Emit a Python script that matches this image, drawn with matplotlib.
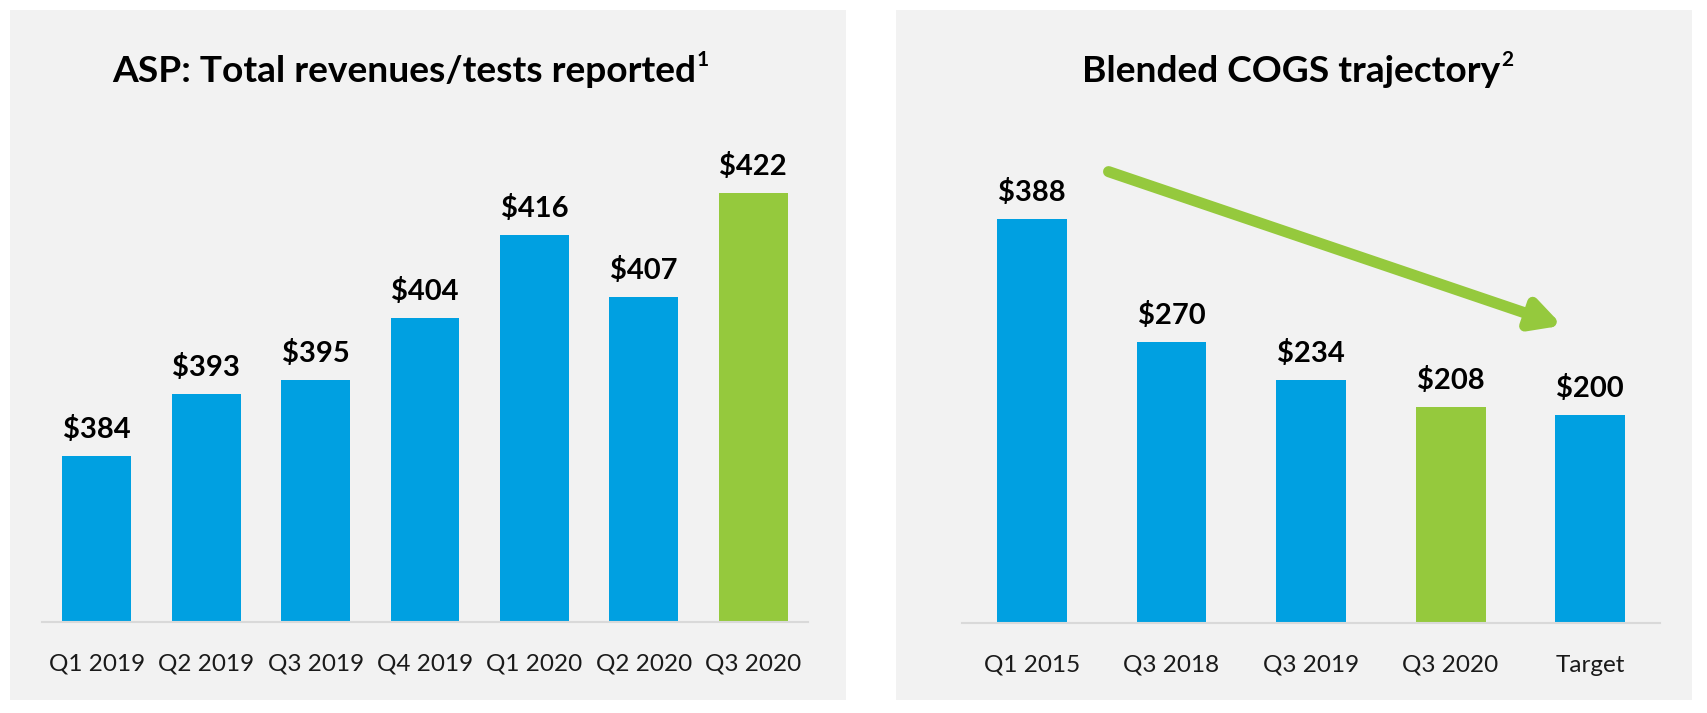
import matplotlib
matplotlib.use('Agg')
import matplotlib.pyplot as plt
from matplotlib.patches import Rectangle

# ASP per quarter
asp_quarters = ['Q1 2019', 'Q2 2019', 'Q3 2019', 'Q4 2019', 'Q1 2020', 'Q2 2020', 'Q3 2020']
asp_values = [384, 393, 395, 404, 416, 407, 422]

# blended COGS
cogs_periods = ['Q1 2015', 'Q3 2018', 'Q3 2019', 'Q3 2020', 'Target']
cogs_values = [388, 270, 234, 208, 200]

# trend arrow, in data units of the COGS chart
arrow_start = (0.55, 434)
arrow_end = (3.8, 286)

BLUE = '#00A0E1'
GREEN = '#95C93D'
PANEL = '#F2F2F2'
FONT = 'Lato'

W, H = 1707, 713
fig = plt.figure(figsize=(W / 100, H / 100), dpi=100)
fig.patch.set_facecolor('white')


def px_rect(x0, y0, x1, y1):
    # image pixel box (top-left origin) -> figure fraction [l, b, w, h]
    return [x0 / W, 1 - y1 / H, (x1 - x0) / W, (y1 - y0) / H]


for box in [(10, 10, 846, 700), (896, 10, 1692, 700)]:
    l, b, w, h = px_rect(*box)
    fig.patches.append(Rectangle((l, b), w, h, transform=fig.transFigure,
                                 facecolor=PANEL, edgecolor='none', zorder=-5))


def bar_panel(ax, labels, values, ylim, width, highlight):
    x = range(len(values))
    colors = [GREEN if i == highlight else BLUE for i in x]
    ax.bar(x, [v - ylim[0] for v in values], bottom=ylim[0], width=width, color=colors)
    ax.set_xlim(-0.5, len(values) - 0.5)
    ax.set_ylim(*ylim)
    ax.set_facecolor('none')
    for s in ['top', 'right', 'left']:
        ax.spines[s].set_visible(False)
    ax.spines['bottom'].set_color('#D9D9D9')
    ax.spines['bottom'].set_linewidth(1.5)
    ax.set_yticks([])
    ax.set_xticks(list(x))
    ax.set_xticklabels(labels, fontsize=17.5, family=FONT, color='#1a1a1a')
    ax.tick_params(axis='x', length=0, pad=23)
    for i, v in zip(x, values):
        ax.annotate('$%d' % v, (i, v), xytext=(0, 13), textcoords='offset pixels',
                    ha='center', va='bottom', fontsize=21, fontweight='bold',
                    family=FONT, color='black')


def title_with_note(cx, text, note):
    # main title centred on cx (pixels), footnote mark raised after it
    t = fig.text((cx - 6) / W, 1 - 82 / H, text, ha='center', va='baseline',
                 fontsize=26.7, fontweight='bold', family=FONT, color='black')
    bb = t.get_window_extent(renderer=fig.canvas.get_renderer())
    fig.text((bb.x1 + 1) / W, 1 - 66 / H, note, ha='left', va='baseline',
             fontsize=15, fontweight='bold', family=FONT, color='black')


ax1 = fig.add_axes(px_rect(42, 138, 808, 622))
bar_panel(ax1, asp_quarters, asp_values, (360, 430), 0.63, 6)

ax2 = fig.add_axes(px_rect(962, 155, 1660, 623))
bar_panel(ax2, cogs_periods, cogs_values, (0, 450), 0.5, 3)

ax2.annotate('', xy=arrow_end, xytext=arrow_start,
             arrowprops=dict(arrowstyle='-|>,head_length=1.7,head_width=0.9',
                             color=GREEN, lw=8, capstyle='round',
                             shrinkA=0, shrinkB=0))

title_with_note(410, 'ASP: Total revenues/tests reported', '1')
title_with_note(1297, 'Blended COGS trajectory', '2')

fig.savefig('out.png', dpi=100, facecolor='white')
